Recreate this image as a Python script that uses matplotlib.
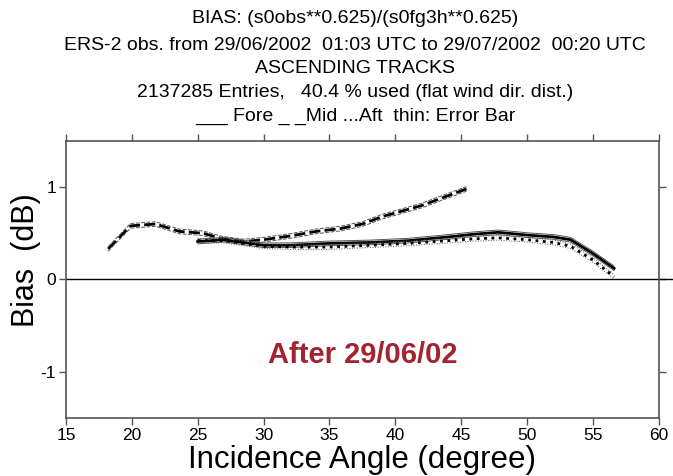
import numpy as np
import matplotlib
matplotlib.use('Agg')
import matplotlib.pyplot as plt

plt.rcParams['font.family'] = ['Liberation Sans', 'DejaVu Sans']
plt.rcParams['axes.unicode_minus'] = False

# mid beam (dashed)
mid_angle = [18.2, 19.9, 21.8, 23.6, 25.4, 26.9, 28.5, 30.0, 32.0, 34.0, 35.8, 37.5, 39.0, 40.5, 42.0, 43.5, 45.4]
mid_bias = [0.33, 0.58, 0.60, 0.52, 0.50, 0.44, 0.41, 0.43, 0.47, 0.52, 0.55, 0.60, 0.68, 0.74, 0.80, 0.88, 0.98]

# fore beam (solid)
fore_angle = [25.0, 27.0, 28.5, 30.0, 32.0, 35.0, 38.0, 41.0, 44.0, 46.0, 47.8, 50.0, 52.0, 53.3, 55.0, 56.6]
fore_bias = [0.41, 0.43, 0.40, 0.37, 0.37, 0.39, 0.40, 0.42, 0.46, 0.49, 0.51, 0.48, 0.46, 0.43, 0.28, 0.12]

# aft beam (dotted)
aft_angle = [25.0, 27.0, 28.5, 30.0, 32.0, 35.0, 38.0, 41.0, 44.0, 46.0, 47.8, 50.0, 52.0, 53.3, 55.0, 56.6]
aft_bias = [0.42, 0.42, 0.39, 0.36, 0.35, 0.35, 0.37, 0.39, 0.42, 0.44, 0.45, 0.43, 0.40, 0.36, 0.21, 0.03]

err = 0.025

title_lines = [
    'BIAS: (s0obs**0.625)/(s0fg3h**0.625)',
    'ERS-2 obs. from 29/06/2002  01:03 UTC to 29/07/2002  00:20 UTC',
    'ASCENDING TRACKS',
    '2137285 Entries,   40.4 % used (flat wind dir. dist.)',
    '___ Fore _ _Mid ...Aft  thin: Error Bar',
]

fig = plt.figure(figsize=(6.73, 4.76), dpi=100)
ax = fig.add_axes([0.098, 0.122, 0.881, 0.582])

for a, b, ls in [(mid_angle, mid_bias, (0, (4, 1.5))),
                 (fore_angle, fore_bias, '-'),
                 (aft_angle, aft_bias, ':')]:
    a = np.array(a)
    b = np.array(b)
    ax.plot(a, b, color='black', lw=2.0, ls=ls)
    ax.plot(a, b + err, color='#555555', lw=0.7, ls=ls)
    ax.plot(a, b - err, color='#555555', lw=0.7, ls=ls)

ax.plot([15, 61.2], [0, 0], color='black', lw=1.0, clip_on=False)

ax.set_xlim(15, 60)
ax.set_ylim(-1.5, 1.5)
ax.set_xticks(np.arange(15, 61, 5))
ax.set_yticks([-1, 0, 1])
ax.tick_params(direction='out', length=5, width=1, color='#555555',
               top=True, right=True, labelsize=12.5, pad=2)
for s in ax.spines.values():
    s.set_color('#555555')
    s.set_linewidth(1.2)

ax.set_xlabel('Incidence Angle (degree)', fontsize=22.5)
ax.xaxis.label.set_va('center')
ax.xaxis.set_label_coords(0.5, -0.152)
ax.set_ylabel('Bias  (dB)', fontsize=22)
ax.yaxis.label.set_va('center')
ax.yaxis.set_label_coords(-0.068, 0.57)

ax.text(37.5, -0.815, 'After 29/06/02', color='#a3232f',
        fontsize=21, fontweight='bold', ha='center', va='center')

ys = [0.962, 0.905, 0.856, 0.806, 0.756]
for t, y in zip(title_lines, ys):
    fig.text(0.528, y, t, ha='center', va='center', fontsize=14)

fig.savefig('out.png', dpi=100)
